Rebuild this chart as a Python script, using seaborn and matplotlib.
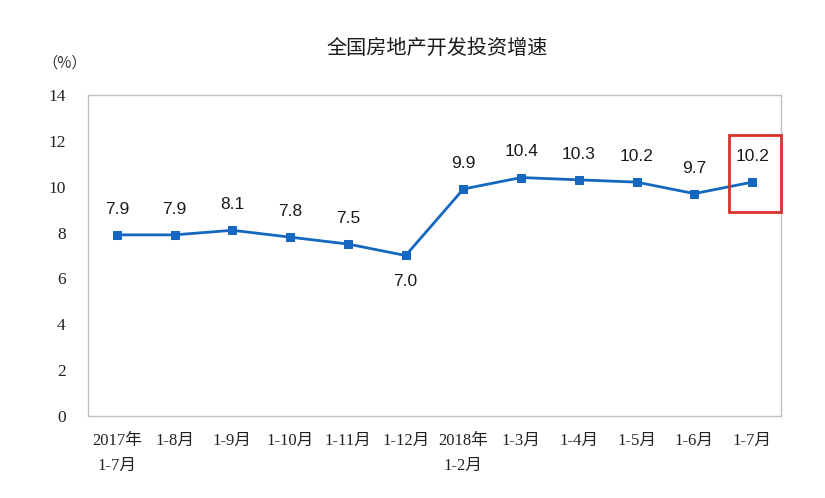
import matplotlib
matplotlib.use("Agg")
import matplotlib.pyplot as plt
import seaborn as sns
import pandas as pd
from matplotlib.patches import Rectangle

categories = ["2017年\n1-7月", "1-8月", "1-9月", "1-10月", "1-11月", "1-12月",
              "2018年\n1-2月", "1-3月", "1-4月", "1-5月", "1-6月", "1-7月"]
values = [7.9, 7.9, 8.1, 7.8, 7.5, 7.0, 9.9, 10.4, 10.3, 10.2, 9.7, 10.2]
label_below = [False, False, False, False, False, True, False, False, False, False, False, False]
yticks = [0, 2, 4, 6, 8, 10, 12, 14]

sns.set_theme(style="white")
plt.rcParams['font.family'] = ['Liberation Serif', 'Noto Sans CJK SC']

df = pd.DataFrame({"cat": categories, "val": values})

fig = plt.figure(figsize=(8.25, 4.98), dpi=100)
ax = fig.add_axes([0.1067, 0.1647, 0.84, 0.6445])

color = "#1567C0"
sns.lineplot(data=df, x="cat", y="val", sort=False, marker="s", markersize=6,
             color=color, linewidth=2, markeredgecolor=color, ax=ax)

ax.set_xlim(-0.5, len(categories) - 0.5)
ax.set_ylim(0, 14)
ax.set_yticks(yticks)
ax.set_yticklabels([str(t) for t in yticks], fontsize=12.5, family=['Liberation Serif'],
                   color="#222222")
ax.set_xticks(range(len(categories)))
ax.set_xticklabels(categories, fontsize=12, family=['Liberation Serif', 'Noto Sans CJK SC'],
                   linespacing=1.75, va='top', color="#222222")
ax.tick_params(axis='x', which='major', length=0, pad=12)
ax.set_xticks([i + 0.5 for i in range(len(categories) - 1)], minor=True)
ax.tick_params(axis='x', which='minor', direction='in', length=4, color='#a0a0a0', width=1)
ax.tick_params(axis='y', which='major', direction='in', length=4, color='#a0a0a0', pad=16)
ax.set_xlabel("")
ax.set_ylabel("")

for s in ax.spines.values():
    s.set_color("#c0c0c0")
    s.set_linewidth(1)

for i, (v, below) in enumerate(zip(values, label_below)):
    ax.annotate(f"{v:.1f}", xy=(i, v), xytext=(0, -13 if below else 13),
                textcoords="offset points", ha="center",
                va="top" if below else "bottom",
                fontsize=12.5, family=['Liberation Sans'], color="#1a1a1a")

ax.add_patch(Rectangle((10.6, 8.9), 0.9, 3.36, fill=False, edgecolor="#d9302c",
                       linewidth=2, clip_on=False, zorder=5))

fig.text(0.53, 0.902, "全国房地产开发投资增速", ha="center", va="center",
         fontsize=14.5, family=['Noto Sans CJK SC'], color="#1a1a1a")
fig.text(0.078, 0.873, "（%）", ha="center", va="center", fontsize=11,
         family=['Noto Sans CJK SC'], color="#333333")

fig.savefig("out.png", dpi=100)
